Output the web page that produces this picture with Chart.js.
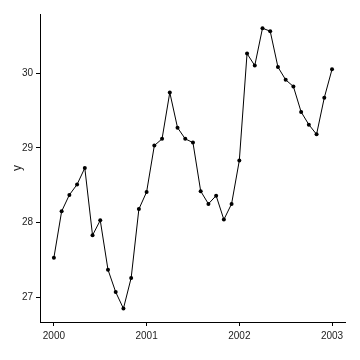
<!DOCTYPE html>
<html>
<head>
<meta charset="utf-8">
<script src="https://cdn.jsdelivr.net/npm/chart.js@4/dist/chart.umd.min.js"></script>
<style>
  html, body { margin: 0; padding: 0; background: #fff; }
  #wrap { width: 360px; height: 360px; }
</style>
</head>
<body>
<div id="wrap"><canvas id="chart" width="360" height="360"></canvas></div>
<script>
// monthly series, Jan 2000 .. Jan 2003
const startYear = 2000;
const values = [
  27.53, 28.15, 28.37, 28.51, 28.73, 27.83, 28.03, 27.37, 27.07, 26.85, 27.26, 28.18,
  28.41, 29.03, 29.12, 29.74, 29.27, 29.12, 29.07, 28.42, 28.25, 28.36, 28.04, 28.25,
  28.83, 30.26, 30.10, 30.60, 30.56, 30.08, 29.91, 29.82, 29.48, 29.31, 29.18, 29.67,
  30.05
];
const xTicks = [2000, 2001, 2002, 2003];
const yTicks = [27, 28, 29, 30];

const points = values.map((v, i) => ({ x: startYear + i / 12, y: v }));

const tickFont = { family: "'Liberation Sans', Arial, sans-serif", size: 10 };

const ctx = document.getElementById("chart").getContext("2d");
new Chart(ctx, {
  type: "line",
  data: {
    datasets: [
      {
        data: points,
        borderColor: "#000",
        borderWidth: 1,
        backgroundColor: "#000",
        pointRadius: 2,
        pointBorderWidth: 0,
        pointHoverRadius: 2,
        tension: 0,
        fill: false,
      },
    ],
  },
  options: {
    responsive: false,
    animation: false,
    layout: { padding: { top: 14, right: 15, bottom: 8, left: 0 } },
    plugins: {
      legend: { display: false },
      tooltip: { enabled: false },
    },
    scales: {
      x: {
        type: "linear",
        min: 1999.85,
        max: 2003.14,
        afterBuildTicks: (scale) => {
          scale.ticks = xTicks.map((v) => ({ value: v }));
        },
        afterFit: (scale) => {
          scale.height = 30;
        },
        ticks: {
          color: "#222",
          font: tickFont,
          padding: 4,
          callback: (v) => String(v),
        },
        grid: {
          drawOnChartArea: false,
          drawTicks: true,
          tickLength: 4,
          color: "#000",
        },
        border: { color: "#000", width: 1 },
      },
      y: {
        min: 26.67,
        max: 30.79,
        afterBuildTicks: (scale) => {
          scale.ticks = yTicks.map((v) => ({ value: v }));
        },
        afterFit: (scale) => {
          scale.width = 40;
        },
        ticks: {
          color: "#222",
          font: tickFont,
          padding: 3,
          callback: (v) => String(v),
        },
        title: {
          display: true,
          text: "y",
          color: "#222",
          font: { family: "'Liberation Sans', Arial, sans-serif", size: 12 },
          padding: { top: 10, bottom: 0 },
        },
        grid: {
          drawOnChartArea: false,
          drawTicks: true,
          tickLength: 4,
          color: "#000",
        },
        border: { color: "#000", width: 1 },
      },
    },
  },
});
</script>
</body>
</html>
